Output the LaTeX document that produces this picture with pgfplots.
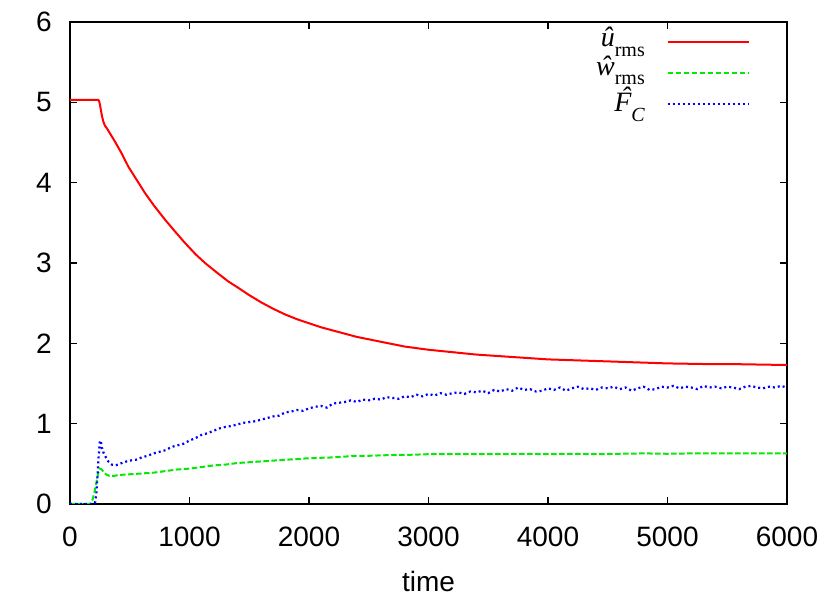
\documentclass[border=0pt]{standalone}
\usepackage{pgfplots}
\pgfplotsset{compat=1.18}
\usepackage{fontspec}
\setmainfont{Liberation Sans}
\newfontfamily\serif{Liberation Serif}
\definecolor{gpred}{RGB}{255,0,0}
\definecolor{gpgreen}{RGB}{0,235,0}
\definecolor{gpblue}{RGB}{0,0,255}
\begin{document}
\begin{tikzpicture}
\begin{axis}[
  scale only axis, width=358.5pt, height=241pt,
  xmin=0, xmax=6000, ymin=0, ymax=6,
  xtick={0,1000,2000,3000,4000,5000,6000}, ytick={0,1,2,3,4,5,6},
  tick align=inside, major tick length=3.5pt,
  axis line style={line width=0.6pt},
  every tick/.style={black, line width=0.6pt},
  tick label style={font=\fontsize{14}{16}\selectfont},
  /pgf/number format/assume math mode=true,
  /pgf/number format/1000 sep={},
  xticklabel style={anchor=north, inner sep=0pt, yshift=-11.5pt},
  yticklabel style={anchor=east, inner sep=0pt, xshift=-9pt},
  xlabel={time},
  xlabel style={font=\fontsize{14}{16}\selectfont, at={(axis description cs:0.5,0)}, anchor=base, inner sep=0pt, yshift=-43.8pt},
  legend style={draw=none, fill=none, at={(rel axis cs:0.9484,0.986)}, anchor=north east,
    inner sep=0pt, outer sep=0pt, column sep=11pt, row sep=0pt,
    nodes={inner sep=0pt, text height=9pt, text depth=6.6pt, font=\fontsize{14}{16}\selectfont\serif}},
  legend cell align=right, legend plot pos=right,
  legend image code/.code={\draw[#1] (0pt,1.3pt) -- (40.5pt,1.3pt);},
]
\addplot[gpred, line width=1pt] coordinates {
(0,5.03) (237,5.03) (245,5.01) (252,4.96) (259,4.90) (269,4.82) (279,4.76) (292,4.71)
(307,4.68) (340,4.60) (377,4.51) (430,4.37) (488,4.20) (560,4.03) (628,3.87) (700,3.72)
(795,3.54) (880,3.39) (962,3.25) (1050,3.11) (1130,3.00) (1230,2.88) (1325,2.77) (1409,2.69)
(1500,2.60) (1600,2.51) (1700,2.43) (1800,2.36) (1900,2.30) (2000,2.25) (2100,2.20) (2200,2.16)
(2300,2.12) (2400,2.08) (2500,2.05) (2600,2.02) (2700,1.99) (2800,1.96) (2900,1.94) (3000,1.92)
(3200,1.89) (3400,1.86) (3600,1.84) (3800,1.82) (4000,1.80) (4200,1.79) (4400,1.78) (4600,1.77)
(4800,1.76) (5000,1.75) (5200,1.745) (5400,1.74) (5600,1.74) (5800,1.735) (6000,1.73)
};
\addlegendentry{\textit{\^u}\raisebox{-5pt}{\fontsize{10}{10}\selectfont rms}}
\addplot[gpgreen, line width=1pt, dash pattern=on 2.7pt off 1.3pt] coordinates {
(0,0) (160,0) (175,0.01) (190,0.06) (205,0.15) (220,0.26) (235,0.38) (250,0.44) (265,0.43)
(280,0.40) (300,0.37) (330,0.35) (370,0.35) (400,0.36) (500,0.37) (600,0.38) (700,0.39)
(800,0.41) (900,0.43) (1000,0.44) (1100,0.46) (1200,0.48) (1300,0.49) (1400,0.51) (1500,0.52)
(1600,0.53) (1700,0.54) (1800,0.55) (1900,0.56) (2000,0.57) (2100,0.575) (2200,0.58) (2300,0.59)
(2400,0.60) (2500,0.60) (2600,0.605) (2700,0.61) (2800,0.61) (2900,0.615) (3000,0.62) (3200,0.62)
(3400,0.62) (3600,0.62) (3800,0.625) (4000,0.62) (4200,0.625) (4400,0.62) (4600,0.625) (4800,0.63)
(5000,0.625) (5200,0.63) (5400,0.63) (5600,0.63) (5800,0.63) (6000,0.63)
};
\addlegendentry{\raisebox{1.45pt}{\textit{\^w}\raisebox{-4.5pt}{\fontsize{10}{10}\selectfont rms}}}
\addplot[gpblue, line width=1.1pt, dash pattern=on 1pt off 1.5pt] coordinates {
(0,0) (200,0) (210,0.02) (220,0.12) (230,0.35) (240,0.60) (250,0.78) (258,0.79) (265,0.70)
(272,0.69) (280,0.64) (300,0.58) (320,0.53) (350,0.49) (380,0.48)
(400,0.49) (450,0.52) (500,0.54) (550,0.55) (600,0.58) (650,0.60) (700,0.63) (750,0.65)
(800,0.67) (850,0.71) (900,0.73) (950,0.75) (1000,0.79) (1050,0.82) (1100,0.86) (1150,0.88)
(1200,0.91) (1250,0.94) (1300,0.96) (1350,0.97) (1400,0.99) (1450,1.01) (1500,1.02) (1550,1.03)
(1600,1.05) (1650,1.07) (1700,1.09) (1750,1.10) (1800,1.14) (1850,1.15) (1900,1.17) (1950,1.16)
(2000,1.19) (2050,1.21) (2100,1.22) (2150,1.20) (2200,1.25) (2250,1.26) (2300,1.27) (2350,1.29)
(2400,1.27) (2450,1.30) (2500,1.29) (2550,1.31) (2600,1.30) (2650,1.33) (2700,1.32) (2750,1.31)
(2800,1.34) (2850,1.33) (2900,1.36) (2950,1.34) (3000,1.37) (3050,1.35) (3100,1.38) (3150,1.36)
(3200,1.38) (3250,1.39) (3300,1.37) (3350,1.40) (3400,1.39) (3450,1.41) (3500,1.38) (3550,1.42)
(3600,1.40) (3650,1.43) (3700,1.41) (3750,1.45) (3800,1.42) (3850,1.43) (3900,1.40) (3950,1.41)
(4000,1.44) (4050,1.42) (4100,1.45) (4150,1.41) (4200,1.44) (4250,1.46) (4300,1.43) (4350,1.44)
(4400,1.42) (4450,1.45) (4500,1.44) (4550,1.46) (4600,1.43) (4650,1.45) (4700,1.41) (4750,1.44)
(4800,1.46) (4850,1.42) (4900,1.43) (4950,1.46) (5000,1.45) (5050,1.47) (5100,1.44) (5150,1.46)
(5200,1.45) (5250,1.43) (5300,1.47) (5350,1.45) (5400,1.46) (5450,1.44) (5500,1.46) (5550,1.45)
(5600,1.43) (5650,1.46) (5700,1.47) (5750,1.45) (5800,1.44) (5850,1.46) (5900,1.45) (5950,1.47)
(6000,1.45)
};
\addlegendentry{\raisebox{-1.3pt}{\itshape\rlap{\hspace{0.23em}\raisebox{0.2em}{\char"02C6}}F\raisebox{-5pt}{\fontsize{10}{10}\selectfont C}}}
\end{axis}
\pgfresetboundingbox
\path[use as bounding box] (-35pt,-55pt) rectangle (380.5pt,252pt);
\end{tikzpicture}
\end{document}
